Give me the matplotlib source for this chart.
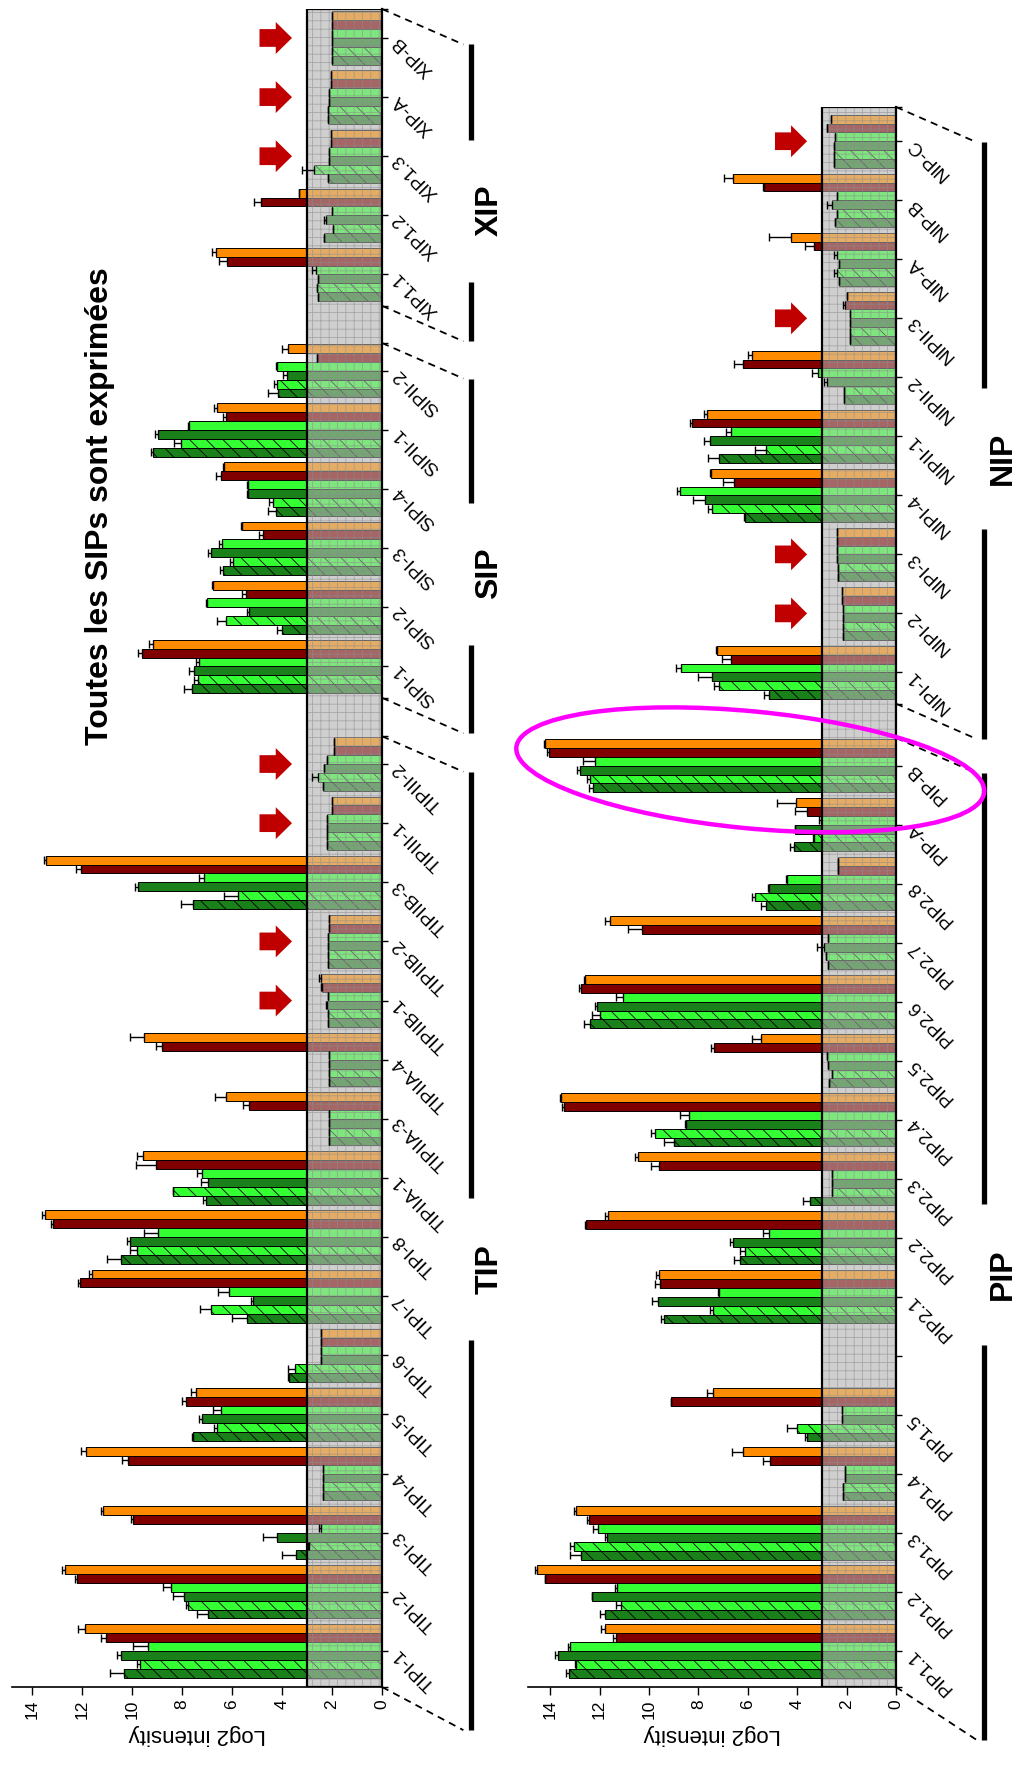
import numpy as np
import matplotlib
matplotlib.use('Agg')
import matplotlib.pyplot as plt
from matplotlib.patches import Rectangle, Polygon, Ellipse
from matplotlib.transforms import blended_transform_factory, IdentityTransform

plt.rcParams['font.family'] = ['Liberation Sans', 'DejaVu Sans']
plt.rcParams['hatch.linewidth'] = 0.6

# order of the six bars inside a group (bottom -> top)
SERIES_COLORS = ['#1a801a', '#33ff33', '#1a801a', '#33ff33', '#800000', '#ff8c00']
SERIES_HATCH = [r'\\', r'\\', None, None, None, None]
THRESHOLD = 3

# ---------------- data (Log2 intensity, mean and + error) ----------------
TIP_NAMES = ['TIPI-1', 'TIPI-2', 'TIPI-3', 'TIPI-4', 'TIPI-5', 'TIPI-6', 'TIPI-7', 'TIPI-8',
             'TIPIIA-1', 'TIPIIA-3', 'TIPIIA-4', 'TIPIIB-1', 'TIPIIB-2', 'TIPIIB-3',
             'TIPIII-1', 'TIPIII-2']
TIP_MEAN = [[10.3, 9.7, 10.45, 9.35, 11.05, 11.9],
            [6.95, 7.75, 7.9, 8.45, 12.2, 12.7],
            [3.45, 2.9, 4.2, 2.45, 9.95, 11.15],
            [2.35, 2.35, 2.35, 2.35, 10.15, 11.85],
            [7.55, 6.6, 7.2, 6.45, 7.85, 7.45],
            [3.72, 3.47, 2.45, 2.45, 2.45, 2.45],
            [5.4, 6.85, 5.15, 6.1, 12.1, 11.6],
            [10.45, 9.8, 10.1, 8.95, 13.15, 13.5],
            [7.05, 8.35, 6.95, 7.2, 9.05, 9.55],
            [2.1, 2.1, 2.1, 2.1, 5.3, 6.25],
            [2.1, 2.1, 2.1, 2.1, 8.8, 9.5],
            [2.15, 2.15, 2.2, 2.15, 2.4, 2.45],
            [2.15, 2.15, 2.15, 2.15, 2.1, 2.1],
            [7.55, 5.75, 9.75, 7.1, 12.05, 13.45],
            [2.2, 2.2, 2.2, 2.2, 2.0, 2.0],
            [2.35, 2.55, 2.3, 2.2, 1.9, 1.9]]
TIP_ERR = [[0.57, 0.1, 0.16, 0.6, 0.2, 0.25],
           [0.45, 0.07, 0.45, 0.3, 0.08, 0.12],
           [0.55, 0.05, 0.55, 0.05, 0.08, 0.07],
           [0, 0, 0, 0, 0.25, 0.2],
           [0.05, 0.13, 0.1, 0.3, 0.13, 0.17],
           [0.05, 0.27, 0, 0, 0, 0],
           [0.6, 0.43, 0.1, 0.44, 0.08, 0.13],
           [0.56, 0.27, 0.1, 0.59, 0.1, 0.1],
           [0.1, 0.03, 0.27, 0.2, 0.77, 0.24],
           [0, 0, 0, 0, 0.24, 0.43],
           [0, 0, 0, 0, 0.23, 0.6],
           [0, 0, 0.05, 0, 0.05, 0.05],
           [0, 0, 0, 0, 0, 0],
           [0.47, 0.56, 0.13, 0.23, 0.17, 0.07],
           [0, 0, 0, 0, 0, 0],
           [0, 0.25, 0, 0, 0, 0]]

SIP_NAMES = ['SIPI-1', 'SIPI-2', 'SIPI-3', 'SIPI-4', 'SIPII-1', 'SIPII-2']
SIP_MEAN = [[7.6, 7.35, 7.5, 7.3, 9.6, 9.15],
            [4.0, 6.25, 5.3, 7.0, 5.45, 6.75],
            [6.35, 5.95, 6.85, 6.4, 4.75, 5.6],
            [4.25, 4.35, 5.35, 5.35, 6.45, 6.3],
            [9.15, 8.05, 8.95, 7.7, 6.25, 6.6],
            [4.15, 4.2, 3.8, 4.2, 2.6, 3.75]]
SIP_ERR = [[0.3, 0.15, 0.2, 0.15, 0.17, 0.17],
           [0.2, 0.35, 0.1, 0.04, 0.13, 0.05],
           [0.13, 0.12, 0.09, 0.1, 0.16, 0.04],
           [0.3, 0.16, 0.03, 0.05, 0.2, 0.06],
           [0.1, 0.27, 0.13, 0.04, 0.1, 0.13],
           [0.4, 0.1, 0.15, 0.02, 0, 0.23]]

XIP_NAMES = ['XIP1.1', 'XIP1.2', 'XIP1.3', 'XIP-A', 'XIP-B']
XIP_MEAN = [[2.55, 2.6, 2.55, 2.65, 6.2, 6.65],
            [2.3, 1.95, 2.25, 2.0, 4.85, 3.3],
            [2.15, 2.7, 2.1, 2.1, 2.05, 2.05],
            [2.15, 2.15, 2.1, 2.1, 2.05, 2.05],
            [2.0, 2.0, 2.0, 2.0, 2.0, 2.0]]
XIP_ERR = [[0, 0, 0, 0.13, 0.33, 0.16],
           [0, 0, 0.05, 0, 0.27, 0.03],
           [0, 0.5, 0, 0, 0, 0],
           [0, 0, 0, 0, 0, 0],
           [0, 0, 0, 0, 0, 0]]

PIP_NAMES = ['PIP1.1', 'PIP1.2', 'PIP1.3', 'PIP1.4', 'PIP1.5', '',
             'PIP2.1', 'PIP2.2', 'PIP2.3', 'PIP2.4', 'PIP2.5', 'PIP2.6', 'PIP2.7', 'PIP2.8',
             'PIP-A', 'PIP-B']
NA = [np.nan] * 6
PIP_MEAN = [[13.25, 12.95, 13.7, 13.2, 11.35, 11.8],
            [11.8, 11.15, 12.3, 11.3, 14.2, 14.55],
            [12.75, 13.05, 11.7, 12.05, 12.45, 12.95],
            [2.15, 2.15, 2.05, 2.05, 5.1, 6.2],
            [3.6, 4.0, 2.2, 2.2, 9.1, 7.4],
            NA,
            [9.4, 7.4, 9.65, 7.15, 9.55, 9.6],
            [6.3, 6.1, 6.6, 5.15, 12.55, 11.65],
            [3.5, 2.6, 2.6, 2.6, 9.6, 10.45],
            [9.0, 9.75, 8.5, 8.4, 13.45, 13.55],
            [2.7, 2.6, 2.75, 2.8, 7.35, 5.45],
            [12.4, 12.0, 12.1, 11.05, 12.75, 12.6],
            [2.75, 2.85, 2.9, 2.75, 10.3, 11.6],
            [5.25, 5.7, 5.15, 4.4, 2.35, 2.35],
            [4.15, 3.3, 4.1, 3.05, 3.6, 4.05],
            [12.25, 12.4, 12.8, 12.2, 14.05, 14.2]]
PIP_ERR = [[0.13, 0.04, 0.1, 0.07, 0.1, 0.13],
           [0.17, 0.17, 0.02, 0.07, 0.03, 0.07],
           [0.45, 0.13, 0.07, 0.2, 0.07, 0.1],
           [0, 0, 0, 0, 0.27, 0.43],
           [0.09, 0.4, 0, 0, 0.03, 0.24],
           NA,
           [0.13, 0.13, 0.23, 0.04, 0.2, 0.11],
           [0.27, 0.2, 0.11, 0.24, 0.03, 0.13],
           [0.28, 0, 0, 0, 0.3, 0.11],
           [0.4, 0.15, 0.04, 0.33, 0.07, 0.04],
           [0, 0, 0, 0, 0.13, 0.38],
           [0.24, 0.3, 0.09, 0.3, 0.07, 0.04],
           [0, 0, 0.3, 0, 0.54, 0.17],
           [0.2, 0.13, 0.05, 0.05, 0, 0],
           [0.13, 0.07, 0, 0.05, 0.5, 0.75],
           [0.16, 0.13, 0.13, 0.47, 0.1, 0.04]]

NIP_NAMES = ['NIPI-1', 'NIPI-2', 'NIPI-3', 'NIPI-4', 'NIPII-1', 'NIPII-2', 'NIPII-3',
             'NIP-A', 'NIP-B', 'NIP-C']
NIP_MEAN = [[5.15, 7.15, 7.45, 8.7, 6.7, 7.25],
            [2.15, 2.15, 2.15, 2.15, 2.2, 2.2],
            [2.35, 2.35, 2.4, 2.4, 2.4, 2.4],
            [6.1, 7.45, 7.75, 8.75, 6.55, 7.5],
            [7.15, 5.25, 7.55, 6.7, 8.25, 7.65],
            [2.1, 2.1, 2.8, 3.15, 6.2, 5.85],
            [1.85, 1.85, 1.85, 1.85, 2.05, 2.0],
            [2.3, 2.4, 2.3, 2.4, 3.3, 4.25],
            [2.45, 2.4, 2.6, 2.4, 5.35, 6.6],
            [2.5, 2.5, 2.5, 2.45, 2.8, 2.65]]
NIP_ERR = [[0.2, 0.2, 0.57, 0.2, 0.34, 0.03],
           [0, 0, 0, 0, 0, 0],
           [0, 0, 0, 0, 0, 0],
           [0.05, 0.16, 0.47, 0.13, 0.45, 0.03],
           [0.47, 0.47, 0.22, 0.19, 0.09, 0.13],
           [0, 0, 0.1, 0.25, 0.36, 0.13],
           [0, 0, 0, 0, 0.1, 0],
           [0, 0.1, 0, 0.1, 0.4, 0.9],
           [0, 0, 0.2, 0, 0.05, 0.38],
           [0, 0, 0, 0, 0, 0]]

# genes marked with a red arrow
ARROWS = ['TIPIIB-1', 'TIPIIB-2', 'TIPIII-1', 'TIPIII-2', 'XIP1.3', 'XIP-A', 'XIP-B',
          'NIPI-2', 'NIPI-3', 'NIPII-3', 'NIP-C']
CIRCLED = 'PIP-B'

# ---------------- figure ----------------
W, H = 1017, 1771
fig = plt.figure(figsize=(W / 100, H / 100), dpi=100)


def px_axes(left, right, top, bottom):
    return fig.add_axes([left / W, 1 - bottom / H, (right - left) / W, (bottom - top) / H])


def draw_panel(ax, families, gaps, xmax, top_pad, bottom_shift):
    ylo = -0.61
    start = 0.0
    all_pos, all_names, secs, where = [], [], [], {}
    for i, (fam, names, mean, err) in enumerate(families):
        pos = start + np.arange(len(names))
        mean = np.array(mean, dtype=float)
        err = np.array(err, dtype=float)
        for k in range(6):
            y = pos + (k - 2.5) * 0.15
            ok = ~np.isnan(mean[:, k])
            ax.barh(y[ok], mean[ok, k], height=0.15, color=SERIES_COLORS[k],
                    edgecolor='black', linewidth=0.7, hatch=SERIES_HATCH[k], zorder=2)
            e = err[ok, k]
            ax.errorbar(mean[ok, k], y[ok], xerr=[np.zeros_like(e), e], fmt='none',
                        ecolor='black', elinewidth=1.0, capsize=3, capthick=1.0, zorder=4)
        all_pos += list(pos)
        all_names += names
        for n, p in zip(names, pos):
            where[n] = p
        secs.append((fam, pos[0], pos[-1]))
        if i < len(gaps):
            start = pos[-1] + 1 + gaps[i]
    yhi = secs[-1][2] + top_pad

    # detection threshold band: opaque grey below the bars, textured veil above them
    ax.add_patch(Rectangle((0, ylo), THRESHOLD, yhi - ylo, facecolor='#d4d4d4',
                           linewidth=0, zorder=1))
    ax.add_patch(Rectangle((0, ylo), THRESHOLD, yhi - ylo, facecolor=(0.8, 0.8, 0.8, 0.5),
                           edgecolor=(0.55, 0.55, 0.55, 0.6), hatch='++', linewidth=0,
                           zorder=3))
    ax.add_patch(Rectangle((0, ylo), THRESHOLD, yhi - ylo, fill=False,
                           edgecolor='black', linewidth=1.6, zorder=5))

    ax.set_xlim(xmax, 0)
    ax.set_ylim(ylo, yhi)
    for s in ['top', 'left']:
        ax.spines[s].set_visible(False)
    ax.spines['right'].set_linewidth(1.6)
    ax.spines['bottom'].set_linewidth(1.2)

    ax.yaxis.tick_right()
    ax.set_yticks(all_pos)
    ax.set_yticklabels(all_names, rotation=135, rotation_mode='anchor',
                       ha='right', va='center', fontsize=13.5)
    ax.tick_params(axis='y', which='both', direction='out', length=4, width=1, pad=6)
    ax.set_xticks(np.arange(0, 15, 2))
    ax.set_xticklabels([str(v) for v in range(0, 15, 2)], rotation=90, fontsize=12.5)
    ax.tick_params(axis='x', direction='out', length=6, width=1, pad=3)
    ax.set_xlabel('Log2 intensity', fontsize=16, rotation=180, labelpad=4)

    # section ends, brackets, perspective dashes and family labels
    trans = blended_transform_factory(ax.transAxes, ax.transData)
    ends = []
    for i, (fam, p0, p1) in enumerate(secs):
        lo = ylo if i == 0 else p0 - 0.53
        hi = yhi if i == len(secs) - 1 else p1 + 0.47
        ends += [lo, hi]
        b_lo = lo - (bottom_shift if i == 0 else 0.6)
        b_hi = hi - 0.6
        mid = (b_lo + b_hi) / 2 - 0.3
        for a, b in [(b_lo, mid - 1.2), (mid + 1.2, b_hi)]:
            ax.plot([1.24, 1.24], [a, b], color='black', lw=3.8, transform=trans,
                    clip_on=False, solid_capstyle='butt')
        for a, b in [(lo, b_lo), (hi, b_hi)]:
            ax.plot([1.0, 1.22], [a, b], color='black', lw=1.3, dashes=(4, 3),
                    transform=trans, clip_on=False)
        ax.text(1.29, mid, fam, transform=trans, rotation=90, ha='center', va='center',
                fontsize=23, fontweight='bold')
    ax.set_yticks(ends, minor=True)

    # red arrows pointing at the undetected genes
    for n in ARROWS:
        if n in where:
            y = where[n]
            pts = [(4.9, y - 0.15), (4.25, y - 0.15), (4.25, y - 0.27), (3.6, y),
                   (4.25, y + 0.27), (4.25, y + 0.15), (4.9, y + 0.15)]
            ax.add_patch(Polygon(pts, closed=True, facecolor='#c00000', edgecolor='none',
                                 zorder=6, clip_on=False))
    return where


ax1 = px_axes(12, 382, 9, 1687)
draw_panel(ax1, [('TIP', TIP_NAMES, TIP_MEAN, TIP_ERR),
                 ('SIP', SIP_NAMES, SIP_MEAN, SIP_ERR),
                 ('XIP', XIP_NAMES, XIP_MEAN, XIP_ERR)],
           gaps=[0.65, 0.63], xmax=14.8, top_pad=0.49, bottom_shift=0.73)

ax2 = px_axes(528, 896, 107, 1687)
where2 = draw_panel(ax2, [('PIP', PIP_NAMES, PIP_MEAN, PIP_ERR),
                          ('NIP', NIP_NAMES, NIP_MEAN, NIP_ERR)],
                    gaps=[0.58], xmax=14.9, top_pad=0.58, bottom_shift=0.9)

# highlight circle around PIP-B
cx, cy = ax2.transData.transform((5.9, where2[CIRCLED] - 0.07))
fig.add_artist(Ellipse((cx, cy), 470, 117, angle=-5.5, fill=False, edgecolor='#ff00ff',
                       linewidth=3.2, transform=IdentityTransform(), zorder=10))

fig.text(100 / W, 1 - 506 / H, 'Toutes les SIPs sont exprimées', rotation=90,
         ha='center', va='center', fontsize=23, fontweight='bold')

fig.savefig('out.png', dpi=100)
